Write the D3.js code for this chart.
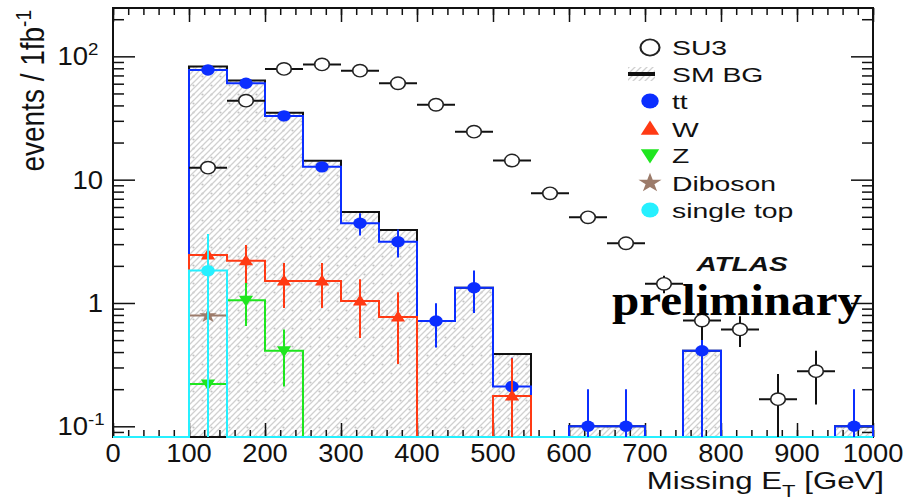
<!DOCTYPE html>
<html>
<head>
<meta charset="utf-8">
<script src="https://cdn.jsdelivr.net/npm/d3@7"></script>
<style>
  body { margin: 0; background: #fff; }
  svg { display: block; }
  text { font-family: "Liberation Sans", Arial, Helvetica, sans-serif; fill: #111; }
</style>
</head>
<body>
<svg id="chart" width="910" height="504"></svg>
<script>
// Missing ET spectrum, 50 GeV bins from 0 to 1000 GeV (events / 1 fb^-1)
const binLow = d3.range(0, 1000, 50);

const ttValues        = [0, 0, 77.5, 60.5, 32.9, 12.7, 4.43, 3.14, 0.715, 1.33, 0.21, 0, 0.1, 0.1, 0, 0.41, 0, 0, 0, 0.1];
const ttErrors        = [0, 0, 1.2, 1.1, 0.8, 0.5, 0.9, 0.8, 0.28, 0.5, 0.15, 0, 0.1, 0.1, 0, 0.36, 0, 0, 0, 0.1];
const wValues         = [0, 0, 2.45, 2.2, 1.51, 1.51, 1.04, 0.77, 0, 0, 0.176, 0, 0, 0, 0, 0, 0, 0, 0, 0];
const wErrors         = [0, 0, 0.2, 0.75, 0.6, 0.6, 0.52, 0.45, 0, 0, 0.18, 0, 0, 0, 0, 0, 0, 0, 0, 0];
const zValues         = [0, 0, 0.22, 1.05, 0.41, 0, 0, 0, 0, 0, 0, 0, 0, 0, 0, 0, 0, 0, 0, 0];
const zErrors         = [0, 0, 0.02, 0.4, 0.2, 0, 0, 0, 0, 0, 0, 0, 0, 0, 0, 0, 0, 0, 0, 0];
const dibosonValues   = [0, 0, 0.79, 0, 0, 0, 0, 0, 0, 0, 0, 0, 0, 0, 0, 0, 0, 0, 0, 0];
const dibosonErrors   = [0, 0, 0.04, 0, 0, 0, 0, 0, 0, 0, 0, 0, 0, 0, 0, 0, 0, 0, 0, 0];
const singleTopValues = [0, 0, 1.83, 0, 0, 0, 0, 0, 0, 0, 0, 0, 0, 0, 0, 0, 0, 0, 0, 0];
const singleTopErrors = [0, 0, 1.8, 0, 0, 0, 0, 0, 0, 0, 0, 0, 0, 0, 0, 0, 0, 0, 0, 0];
const su3Values       = [0, 0, 12.5, 43.7, 79, 86, 76.5, 60.5, 40.5, 24.5, 14.3, 7.75, 4.95, 3.05, 1.43, 0.72, 0.61, 0.166, 0.28, 0];
const su3Errors       = [0, 0, 0.8, 1.5, 2, 2, 2, 1.8, 1.4, 1.1, 0.8, 0.6, 0.45, 0.35, 0.23, 0.22, 0.17, 0.1, 0.13, 0];

const xMajorTicks = d3.range(0, 1001, 100);
const xMinorTicks = d3.range(0, 1001, 20);
const yMajorTicks = [0.1, 1, 10, 100];
const yTickLabels = [{ base: "10", exp: "-1" }, { base: "1", exp: "" }, { base: "10", exp: "" }, { base: "10", exp: "2" }];

const legendEntries = [
  { label: "SU3", kind: "su3" },
  { label: "SM BG", kind: "total" },
  { label: "tt", kind: "tt" },
  { label: "W", kind: "w" },
  { label: "Z", kind: "z" },
  { label: "Diboson", kind: "diboson" },
  { label: "single top", kind: "singletop" }
];

const colors = {
  tt: "#0b2eff", w: "#ff3a14", z: "#1fe61f", diboson: "#9c7b6a", singletop: "#26f0ff",
  total: "#111", su3: "#111"
};

const svg = d3.select("#chart");
const plot = { left: 113, right: 873, top: 8, bottom: 437 };
const x = d3.scaleLinear().domain([0, 1000]).range([plot.left, plot.right]);
const yMin = 0.0819, yMax = 246.6;
const y = d3.scaleLog().domain([yMin, yMax]).range([plot.bottom, plot.top]);
const yc = v => (v > yMin ? y(Math.min(v, yMax)) : plot.bottom);

const totalValues = binLow.map((_, i) =>
  ttValues[i] + wValues[i] + zValues[i] + dibosonValues[i] + singleTopValues[i]);

// hatched fill used for the SM background
const defs = svg.append("defs");
const dots = defs.append("pattern").attr("id", "dots").attr("patternUnits", "userSpaceOnUse")
  .attr("width", 9).attr("height", 9);
dots.append("circle").attr("cx", 4.5).attr("cy", 4.5).attr("r", 1.1).attr("fill", "#c4c4c4");
const hatch = defs.append("pattern").attr("id", "hatch").attr("patternUnits", "userSpaceOnUse")
  .attr("width", 6).attr("height", 6);
hatch.append("path").attr("d", "M-1,1 L1,-1 M0,6 L6,0 M5,7 L7,5")
  .attr("stroke", "#d0d0d0").attr("stroke-width", 1.3).attr("fill", "none");

// step points for a histogram: value held from each lower edge to the next
function stepPoints(vals) {
  const pts = binLow.map((e, i) => ({ e, v: vals[i] }));
  pts.push({ e: 1000, v: vals[vals.length - 1] });
  pts.push({ e: 1000, v: 0 });
  return pts;
}
const stepLine = d3.line().x(d => x(d.e)).y(d => yc(d.v)).curve(d3.curveStepAfter);
const stepArea = d3.area().x(d => x(d.e)).y0(plot.bottom).y1(d => yc(d.v)).curve(d3.curveStepAfter);

// SM background band
const totalPts = stepPoints(totalValues);
svg.append("path").attr("d", stepArea(totalPts)).attr("fill", "url(#dots)");
svg.append("path").attr("d", stepArea(totalPts)).attr("fill", "url(#hatch)");

// frame and ticks
const axisG = svg.append("g").attr("class", "axes");
function styleAxis(g) {
  g.select(".domain").remove();
  g.selectAll(".tick line").attr("stroke", "#111").attr("stroke-width", 1.5);
  g.selectAll(".tick text").remove();
}
axisG.append("g").attr("transform", `translate(0,${plot.bottom})`)
  .call(d3.axisBottom(x).tickValues(xMinorTicks).tickSize(-7).tickFormat("")).call(styleAxis);
axisG.append("g").attr("transform", `translate(0,${plot.bottom})`)
  .call(d3.axisBottom(x).tickValues(xMajorTicks).tickSize(-14).tickFormat("")).call(styleAxis);
axisG.append("g").attr("transform", `translate(0,${plot.top})`)
  .call(d3.axisTop(x).tickValues(xMinorTicks).tickSize(-7).tickFormat("")).call(styleAxis);
axisG.append("g").attr("transform", `translate(0,${plot.top})`)
  .call(d3.axisTop(x).tickValues(xMajorTicks).tickSize(-14).tickFormat("")).call(styleAxis);

const yMinorTicks = [];
[0.01, 0.1, 1, 10, 100].forEach(dec => d3.range(2, 10).forEach(m => {
  const v = dec * m; if (v > yMin && v < yMax) yMinorTicks.push(v);
}));
[[d3.axisLeft, plot.left], [d3.axisRight, plot.right]].forEach(([ax, pos]) => {
  axisG.append("g").attr("transform", `translate(${pos},0)`)
    .call(ax(y).tickValues(yMinorTicks).tickSize(-11).tickFormat("")).call(styleAxis);
  axisG.append("g").attr("transform", `translate(${pos},0)`)
    .call(ax(y).tickValues(yMajorTicks).tickSize(-22).tickFormat("")).call(styleAxis);
});
svg.append("rect").attr("x", plot.left).attr("y", plot.top)
  .attr("width", plot.right - plot.left).attr("height", plot.bottom - plot.top)
  .attr("fill", "none").attr("stroke", "#111").attr("stroke-width", 2);

// histogram outlines (unstacked components, each drawn over the previous ones)
const histG = svg.append("g");
[[totalValues, colors.total], [ttValues, colors.tt], [wValues, colors.w], [zValues, colors.z],
 [dibosonValues, colors.diboson], [singleTopValues, colors.singletop]].forEach(([vals, col]) => {
  histG.append("path").attr("d", stepLine(stepPoints(vals)))
    .attr("fill", "none").attr("stroke", col).attr("stroke-width", 2);
});

// marker shapes
const SX = 1.18;
function marker(g, kind, cx, cy, scale = 1) {
  const t = `translate(${cx},${cy}) scale(${SX * scale},${scale})`;
  if (kind === "tt" || kind === "singletop") {
    g.append("circle").attr("transform", t).attr("r", 5.7).attr("fill", colors[kind]);
  } else if (kind === "su3") {
    g.append("circle").attr("transform", t).attr("r", 6.2).attr("fill", "#fff")
      .attr("stroke", "#222").attr("stroke-width", 1.4);
  } else if (kind === "w") {
    g.append("path").attr("transform", t).attr("d", "M0,-6.5 L6,4.5 L-6,4.5 Z").attr("fill", colors.w);
  } else if (kind === "z") {
    g.append("path").attr("transform", t).attr("d", "M0,6.5 L6,-4.5 L-6,-4.5 Z").attr("fill", colors.z);
  } else if (kind === "diboson") {
    g.append("path").attr("transform", t).attr("d", d3.symbol(d3.symbolStar, 70)()).attr("fill", colors.diboson);
  }
}

// points with vertical errors (SU3 also carries the bin-width bar)
const ptsG = svg.append("g");
function drawPoints(vals, errs, kind, horizontal) {
  vals.forEach((v, i) => {
    if (!(v > 0)) return;
    const cx = x(binLow[i] + 25), cy = yc(v);
    ptsG.append("line").attr("x1", cx).attr("x2", cx)
      .attr("y1", yc(v + errs[i])).attr("y2", yc(v - errs[i]))
      .attr("stroke", colors[kind]).attr("stroke-width", 2);
    if (horizontal) {
      ptsG.append("line").attr("x1", x(binLow[i])).attr("x2", x(binLow[i] + 50))
        .attr("y1", cy).attr("y2", cy).attr("stroke", "#111").attr("stroke-width", 2);
    }
    marker(ptsG, kind, cx, cy);
  });
}
drawPoints(ttValues, ttErrors, "tt", false);
drawPoints(wValues, wErrors, "w", false);
drawPoints(zValues, zErrors, "z", false);
drawPoints(dibosonValues, dibosonErrors, "diboson", false);
drawPoints(singleTopValues, singleTopErrors, "singletop", false);
drawPoints(su3Values, su3Errors, "su3", true);

// horizontally stretched text helper
function label(str, tx, ty, sx, size, anchor = "start") {
  return svg.append("text")
    .attr("transform", `translate(${tx},${ty}) scale(${sx},1)`)
    .attr("text-anchor", anchor).attr("font-size", size).text(str);
}

// x tick labels
xMajorTicks.forEach(v => label(String(v), x(v), 462, 1.05, 26, "middle"));
// y tick labels
yMajorTicks.forEach((v, i) => {
  const lab = yTickLabels[i];
  if (lab.exp) {
    label(lab.base, 88, y(v) + 9, 1.1, 25, "end");
    svg.append("text").attr("transform", `translate(88,${y(v) + 9}) scale(1.1,1)`)
      .attr("font-size", 17).attr("dy", -10).text(lab.exp);
  } else {
    label(lab.base, 103, y(v) + 9, 1.1, 25, "end");
  }
});

// axis titles
const xt = label("", 884, 489, 1.3, 24, "end");
xt.append("tspan").text("Missing E");
xt.append("tspan").attr("font-size", 17).attr("dy", 8).text("T");
xt.append("tspan").attr("dy", -8).text(" [GeV]");

const yt = svg.append("text")
  .attr("transform", `translate(44,10) scale(1.2,1) rotate(-90)`)
  .attr("text-anchor", "end").attr("font-size", 28);
yt.append("tspan").text("events / 1fb");
yt.append("tspan").attr("font-size", 19).attr("dy", -11).text("-1");

// legend
const legG = svg.append("g");
legendEntries.forEach((d, i) => {
  const rowY = [47.5, 74, 101, 129, 155, 183, 210][i];
  if (d.kind === "total") {
    legG.append("rect").attr("x", 628).attr("y", rowY - 7).attr("width", 27).attr("height", 14).attr("fill", "url(#hatch)");
    legG.append("line").attr("x1", 628).attr("x2", 655).attr("y1", rowY).attr("y2", rowY)
      .attr("stroke", "#111").attr("stroke-width", 4);
  } else {
    marker(legG, d.kind, 650, rowY, 1.3);
  }
  label(d.label, 672, rowY + 7.5, 1.35, 21);
});

// experiment tags
svg.append("text").attr("transform", "translate(742,271) scale(1.4,1)")
  .attr("text-anchor", "middle").attr("font-size", 20).attr("font-weight", "bold")
  .attr("font-style", "italic").text("ATLAS");
svg.append("text").attr("x", 612).attr("y", 315)
  .style("font-family", "'Liberation Serif', 'Times New Roman', serif")
  .attr("font-weight", "bold").attr("font-size", 44)
  .attr("textLength", 250).attr("lengthAdjust", "spacingAndGlyphs")
  .style("fill", "#000").text("preliminary");
</script>
</body>
</html>
